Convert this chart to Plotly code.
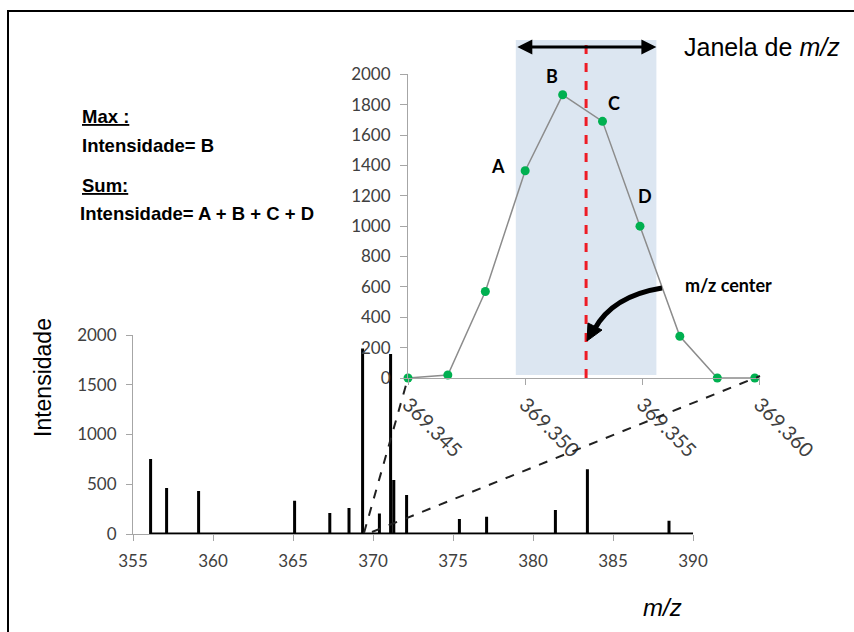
import plotly.graph_objects as go

W, H = 854, 632

# Survey spectrum: centroid m/z and intensity of each peak
peak_mz = [356.1, 357.1, 359.1, 365.1, 367.3, 368.5, 369.35, 370.4,
           371.1, 371.3, 372.1, 375.4, 377.1, 381.4, 383.4, 388.5]
peak_int = [754, 462, 432, 335, 211, 261, 1865, 205,
            1810, 543, 392, 151, 174, 240, 652, 134]
spectrum_end = 390

# Profile-mode points of the zoomed peak
profile_mz = [369.3450, 369.3467, 369.3483, 369.3500, 369.3516,
              369.3533, 369.3549, 369.3566, 369.3582, 369.3598]
profile_int = [0, 20, 570, 1365, 1865, 1690, 1000, 275, 0, 0]

# Labelled points (index -> letter, pixel offset of the letter)
point_labels = {3: ("A", -27, 5), 4: ("B", -11, 19), 5: ("C", 11, 18), 6: ("D", 5, 30)}

# m/z window used for extraction
window_center = 369.3526
window_half = 0.003

main_ticks_x = [355, 360, 365, 370, 375, 380, 385, 390]
inset_ticks_x = [369.345, 369.350, 369.355, 369.360]


def px(x):
    return x / W


def py(y):
    return 1 - y / H


# stick spectrum as one continuous line
stick_x, stick_y = [], []
for m, h in zip(peak_mz, peak_int):
    stick_x += [m, m, m]
    stick_y += [0, h, 0]
stick_x.append(spectrum_end)
stick_y.append(0)

fig = go.Figure()
fig.add_trace(go.Scatter(
    x=stick_x, y=stick_y, mode="lines",
    line=dict(color="black", width=3), cliponaxis=False,
    xaxis="x", yaxis="y", hoverinfo="skip"))

fig.add_trace(go.Scatter(
    x=profile_mz, y=profile_int, mode="lines+markers",
    line=dict(color="#8C8C8C", width=1.5),
    marker=dict(color="#00B050", size=9),
    cliponaxis=False, xaxis="x2", yaxis="y2"))

tick_font = dict(family="Lato", size=17, color="#404040")
axis_grey = "#A6A6A6"

fig.update_layout(
    width=W, height=H,
    margin=dict(l=0, r=0, t=0, b=0, pad=0, autoexpand=False),
    paper_bgcolor="white", plot_bgcolor="rgba(0,0,0,0)",
    showlegend=False,
    xaxis=dict(domain=[px(133), px(693)], range=[355, 390],
               tickvals=main_ticks_x, showline=True, linecolor=axis_grey,
               ticks="outside", ticklen=6, tickcolor=axis_grey,
               showgrid=False, zeroline=False, tickfont=tick_font,
               anchor="y", automargin=False, ticklabelstandoff=6),
    yaxis=dict(domain=[py(534), py(335)], range=[0, 2000], dtick=500,
               showline=True, linecolor=axis_grey, ticks="outside",
               ticklen=6, tickcolor=axis_grey, showgrid=False,
               zeroline=False, tickfont=tick_font, anchor="x",
               ticklabelstandoff=6, automargin=False),
    xaxis2=dict(domain=[px(408), px(759.5)], range=[369.345, 369.360],
                tickvals=inset_ticks_x, tickformat=".3f", tickangle=45,
                showline=True, linecolor=axis_grey, ticks="outside",
                ticklen=6, tickcolor=axis_grey, showgrid=False,
                zeroline=False, tickfont=dict(family="Lato", size=20, color="#404040"),
                anchor="y2", automargin=False),
    yaxis2=dict(domain=[py(378), py(74.3)], range=[0, 2000], dtick=200,
                showline=True, linecolor=axis_grey, ticks="outside",
                ticklen=7, tickcolor=axis_grey, showgrid=False,
                zeroline=False, tickfont=tick_font, anchor="x2",
                ticklabelstandoff=6, automargin=False),
)

shapes = []
# shaded m/z window
shapes.append(dict(type="rect", xref="x2", yref="paper",
                   x0=window_center - window_half, x1=window_center + window_half,
                   y0=py(375), y1=py(40), fillcolor="#DCE6F1",
                   line=dict(width=0), layer="below"))
# window centre
shapes.append(dict(type="line", xref="x2", yref="paper",
                   x0=window_center, x1=window_center, y0=py(378), y1=py(40),
                   line=dict(color="#EE1C25", width=3, dash="dash")))
# zoom connectors
shapes.append(dict(type="line", xref="paper", yref="paper",
                   x0=px(364), y0=py(533), x1=px(408), y1=py(378),
                   line=dict(color="#202020", width=2, dash="dash")))
shapes.append(dict(type="line", xref="paper", yref="paper",
                   x0=px(372), y0=py(532), x1=px(760), y1=py(376),
                   line=dict(color="#202020", width=2, dash="dash")))
# curved arrow to the window centre
shapes.append(dict(type="path", xref="paper", yref="paper",
                   path=f"M {px(662)} {py(288)} Q {px(612)} {py(296)} {px(594)} {py(330)}",
                   line=dict(color="black", width=5)))
shapes.append(dict(type="path", xref="paper", yref="paper",
                   path=(f"M {px(587)} {py(341)} L {px(602)} {py(330)} "
                         f"L {px(588)} {py(323)} Z"),
                   fillcolor="black", line=dict(color="black", width=1)))
# frame
shapes.append(dict(type="rect", xref="paper", yref="paper",
                   x0=px(8), y0=-0.02, x1=1.02, y1=py(11),
                   line=dict(color="black", width=2), fillcolor="rgba(0,0,0,0)"))
fig.update_layout(shapes=shapes)

annotations = []
# window width arrow
annotations.append(dict(xref="x2", yref="paper", axref="x2", ayref="pixel",
                        x=window_center + window_half, y=py(47),
                        ax=window_center - window_half, ay=0,
                        text="", showarrow=True, arrowside="end+start",
                        arrowhead=2, arrowsize=1, arrowwidth=3, arrowcolor="black"))
# letters on the profile points
for i, (letter, dx, dy) in point_labels.items():
    annotations.append(dict(xref="x2", yref="y2", x=profile_mz[i], y=profile_int[i],
                            text=f"<b>{letter}</b>", showarrow=False,
                            xshift=dx, yshift=dy,
                            font=dict(family="Lato", size=18, color="black")))

bold = dict(family="Liberation Sans", size=18.5, color="black")
under = dict(family="Liberation Sans", size=18.5, color="black", lineposition="under")


def note(x, y, text, font, xanchor="left", **kw):
    return dict(xref="paper", yref="paper", x=px(x), y=py(y),
                xanchor=xanchor, yanchor="middle", text=text,
                showarrow=False, font=font, **kw)


annotations += [
    note(80, 117, "<b>Max :</b>", under),
    note(80, 145, "<b>Intensidade= B</b>", bold),
    note(80, 185, "<b>Sum:</b>", under),
    note(78, 213, "<b>Intensidade= A + B + C + D</b>", bold),
    note(682, 47, "Janela de <i>m/z</i>",
         dict(family="Liberation Sans", size=25, color="black")),
    note(683, 285, "<b>m/z center</b>",
         dict(family="Lato", size=18, color="black")),
    note(662, 607, "<i>m/z</i>",
         dict(family="Liberation Sans", size=24, color="black"), xanchor="center"),
    note(43, 378, "Intensidade",
         dict(family="Liberation Sans", size=23, color="black"),
         xanchor="center", textangle=-90),
]
fig.update_layout(annotations=annotations)

fig.write_html("out.html")
